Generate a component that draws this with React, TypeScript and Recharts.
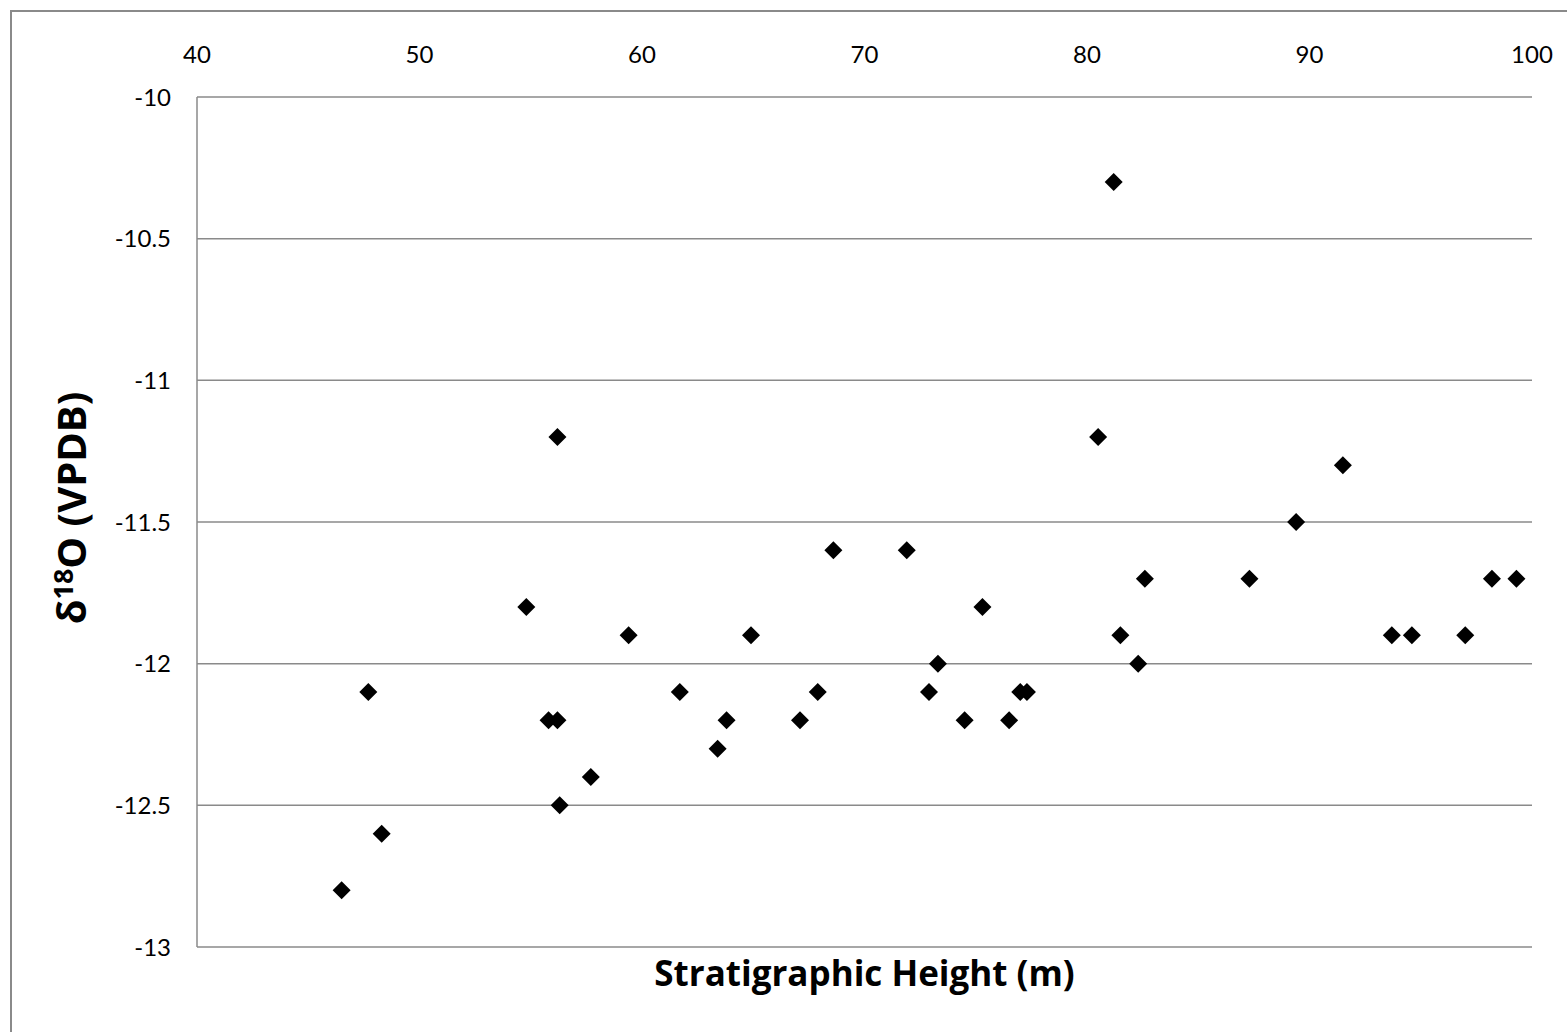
import { ScatterChart, Scatter, XAxis, YAxis, CartesianGrid } from 'recharts';

// stratigraphic height (m) and d18O (VPDB)
const heights = [
  46.5, 47.7, 48.3, 54.8, 55.8, 56.2, 56.2, 56.3, 57.7, 59.4, 61.7, 63.4, 63.8,
  64.9, 67.1, 67.9, 68.6, 71.9, 72.9, 73.3, 74.5, 75.3, 76.5, 77.0, 77.3, 80.5,
  81.2, 81.5, 82.3, 82.6, 87.3, 89.4, 91.5, 93.7, 94.6, 97.0, 98.2, 99.3,
];
const d18O = [
  -12.8, -12.1, -12.6, -11.8, -12.2, -11.2, -12.2, -12.5, -12.4, -11.9, -12.1,
  -12.3, -12.2, -11.9, -12.2, -12.1, -11.6, -11.6, -12.1, -12.0, -12.2, -11.8,
  -12.2, -12.1, -12.1, -11.2, -10.3, -11.9, -12.0, -11.7, -11.7, -11.5, -11.3,
  -11.9, -11.9, -11.9, -11.7, -11.7,
];
const xTicks = [40, 50, 60, 70, 80, 90, 100];
const yTicks = [-13, -12.5, -12, -11.5, -11, -10.5, -10];

const data = heights.map((h, i) => ({ h, o: d18O[i] }));

const FONT = 'Lato, "Open Sans", sans-serif';
const TITLE_FONT = '"Open Sans", Lato, sans-serif';
const GRID = '#8a8a8a';

const Diamond = (props: { cx?: number; cy?: number }) => {
  const { cx = 0, cy = 0 } = props;
  const r = 9;
  return (
    <path
      d={`M${cx},${cy - r} L${cx + r},${cy} L${cx},${cy + r} L${cx - r},${cy} Z`}
      fill="#000"
    />
  );
};

const XTitle = (props: { viewBox?: { x: number; width: number } }) => {
  const vb = props.viewBox || { x: 0, width: 0 };
  return (
    <text
      x={vb.x + vb.width / 2}
      y={986}
      textAnchor="middle"
      fontFamily={TITLE_FONT}
      fontWeight={700}
      fontSize={35}
      fill="#000"
    >
      Stratigraphic Height (m)
    </text>
  );
};

const YTitle = () => {
  const x = 86;
  const y = 508;
  return (
    <text
      x={x}
      y={y}
      transform={`rotate(-90, ${x}, ${y})`}
      textAnchor="middle"
      fontFamily={TITLE_FONT}
      fontWeight={700}
      fontSize={40}
      fill="#000"
    >
      δ
      <tspan fontSize={27} dy={-13}>
        18
      </tspan>
      <tspan dy={13}>O (VPDB)</tspan>
    </text>
  );
};

export default function App() {
  return (
    <div
      style={{
        position: 'absolute',
        left: 0,
        top: 0,
        width: 1567,
        height: 1032,
        overflow: 'hidden',
        background: '#fff',
      }}
    >
      <div
        style={{
          position: 'absolute',
          left: 10,
          top: 10,
          width: 1700,
          height: 1200,
          borderLeft: `2px solid ${GRID}`,
          borderTop: `2px solid ${GRID}`,
        }}
      />
      <div style={{ position: 'absolute', left: 0, top: 0 }}>
        <ScatterChart
          width={1567}
          height={1032}
          margin={{ top: 47, right: 35, bottom: 85, left: 97 }}
        >
          <CartesianGrid horizontal vertical={false} stroke={GRID} strokeWidth={1.5} />
          <XAxis
            type="number"
            dataKey="h"
            orientation="top"
            domain={[40, 100]}
            ticks={xTicks}
            height={50}
            axisLine={false}
            tickLine={false}
            tickSize={0}
            tickMargin={34}
            tick={{ fill: '#000', fontSize: 24, fontFamily: FONT }}
            label={{ content: <XTitle /> }}
          />
          <YAxis
            type="number"
            dataKey="o"
            domain={[-13, -10]}
            ticks={yTicks}
            width={100}
            axisLine={{ stroke: GRID, strokeWidth: 1.5 }}
            tickLine={false}
            tickSize={0}
            tickMargin={26}
            tick={{ fill: '#000', fontSize: 24, fontFamily: FONT }}
            label={{ content: <YTitle /> }}
          />
          <Scatter data={data} shape={<Diamond />} isAnimationActive={false} />
        </ScatterChart>
      </div>
    </div>
  );
}
